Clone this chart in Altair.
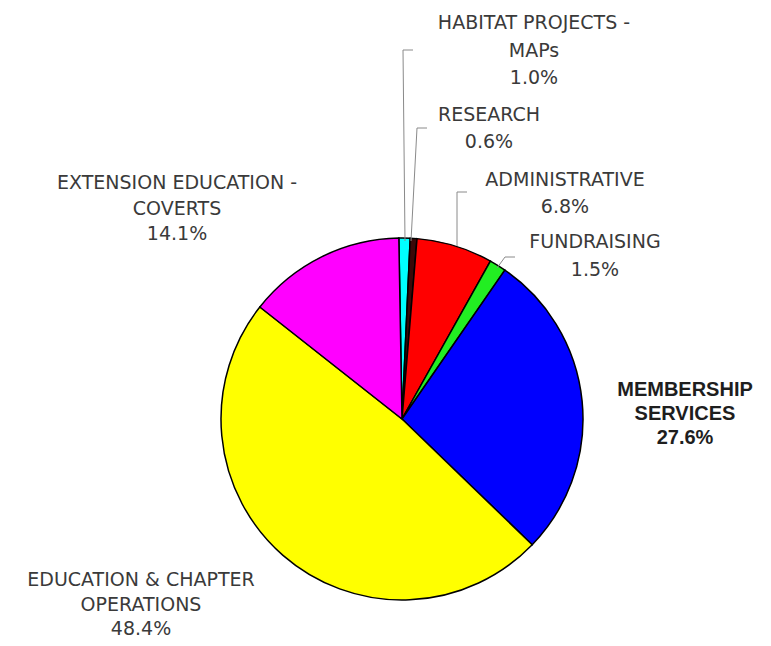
import math
import altair as alt
import pandas as pd

# ---- data ----
categories = [
    "HABITAT PROJECTS - MAPs",
    "RESEARCH",
    "ADMINISTRATIVE",
    "FUNDRAISING",
    "MEMBERSHIP SERVICES",
    "EDUCATION & CHAPTER OPERATIONS",
    "EXTENSION EDUCATION - COVERTS",
]
shares = [1.0, 0.6, 6.8, 1.5, 27.6, 48.4, 14.1]
label_names = [
    ["HABITAT PROJECTS -", "MAPs"],
    ["RESEARCH"],
    ["ADMINISTRATIVE"],
    ["FUNDRAISING"],
    ["MEMBERSHIP", "SERVICES"],
    ["EDUCATION & CHAPTER", "OPERATIONS"],
    ["EXTENSION EDUCATION -", "COVERTS"],
]

# ---- styles / layout ----
colors = ["#00ffff", "#3a0808", "#ff0000", "#22ee22", "#0000ff", "#ffff00", "#ff00ff"]
bold_label = [False, False, False, False, True, False, False]
M = 8  # page margin
# label anchor (page px): centre x, first-line y, line step
label_pos = [
    (534, 23, 27.5),
    (489, 115, 27),
    (565, 180, 27),
    (595, 242, 28),
    (685, 390, 24),
    (141, 580, 24.5),
    (177, 183, 25.5),
]
pie_cx, pie_cy, pie_r = 402, 419, 181
start = math.radians(-1.0)

pie = pd.DataFrame({
    "category": categories,
    "share": shares,
    "order": list(range(len(categories))),
})

rows = []
for i, (names, v) in enumerate(zip(label_names, shares)):
    lines = names + [f"{v:.1f}%"]
    cx, y0, step = label_pos[i]
    for j, t in enumerate(lines):
        rows.append({"text": t, "px": cx - M, "py": y0 + j * step - M, "bold": bold_label[i]})
labels = pd.DataFrame(rows)

segs = [
    (403, 50, 413, 50), (403, 50, 405, 241),
    (417, 128, 427, 128), (417, 128, 411, 241),
    (457, 192, 467, 192), (457, 192, 457, 246),
    (497, 268, 505, 257), (505, 257, 515, 257),
]
lines_df = pd.DataFrame(
    [{"x": a - M, "y": b - M, "x2": c - M, "y2": d - M} for a, b, c, d in segs]
)

arcs = alt.Chart(pie).mark_arc(radius=pie_r, stroke="black", strokeWidth=1.5).encode(
    theta=alt.Theta("share:Q", stack=True,
                    scale=alt.Scale(range=[start, start + 2 * math.pi])),
    color=alt.Color("category:N", scale=alt.Scale(domain=categories, range=colors), legend=None),
    order=alt.Order("order:Q"),
    x=alt.value(pie_cx - M),
    y=alt.value(pie_cy - M),
)

rules = alt.Chart(lines_df).mark_rule(color="#8a8a8a", strokeWidth=1).encode(
    x=alt.X("x:Q", scale=None), y=alt.Y("y:Q", scale=None),
    x2="x2:Q", y2="y2:Q",
)

plain = alt.Chart(labels).transform_filter("!datum.bold").mark_text(
    font="DejaVu Sans", fontSize=19, color="#3a3a3a", align="center", baseline="middle"
).encode(x=alt.X("px:Q", scale=None), y=alt.Y("py:Q", scale=None), text="text:N")

boldt = alt.Chart(labels).transform_filter("datum.bold").mark_text(
    font="Liberation Sans", fontSize=20, fontWeight="bold", color="#1e1e1e",
    align="center", baseline="middle"
).encode(x=alt.X("px:Q", scale=None), y=alt.Y("py:Q", scale=None), text="text:N")

chart = alt.layer(arcs, rules, plain, boldt).properties(
    width=755, height=630, padding=0, autosize="none", background="white"
).configure_view(stroke=None)

chart.save("out.html", embed_options={"renderer": "svg", "actions": False})
